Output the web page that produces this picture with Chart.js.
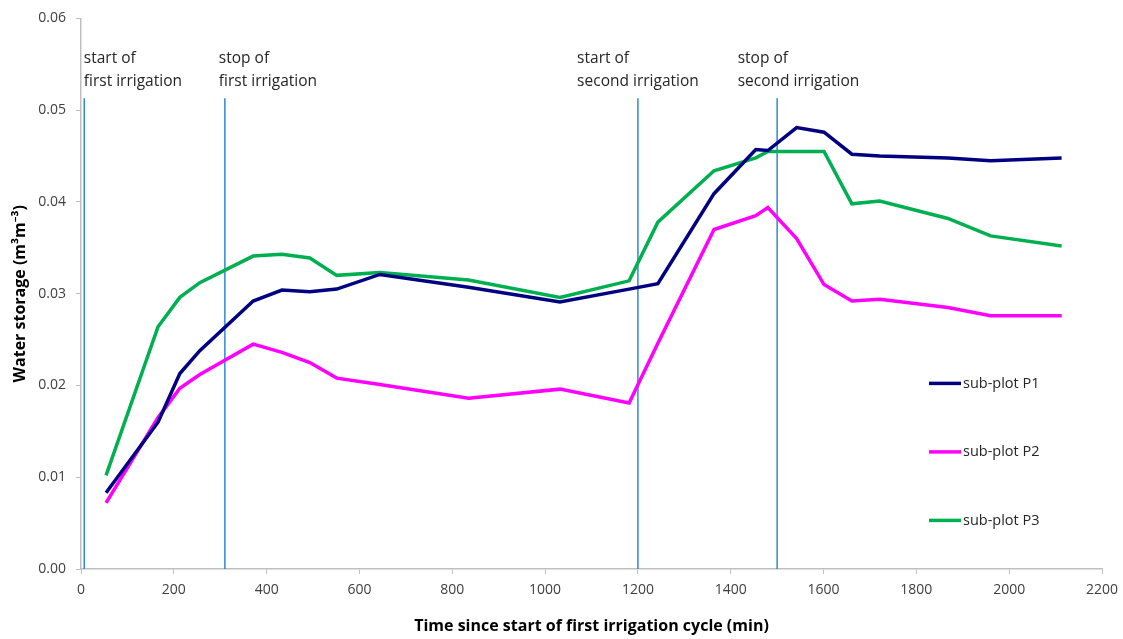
<!DOCTYPE html>
<html>
<head>
<meta charset="utf-8">
<script src="https://cdn.jsdelivr.net/npm/chart.js"></script>
<style>
    html, body { margin: 0; padding: 0; background: #fff; }
</style>
</head>
<body>
<canvas id="storage" width="1123" height="639"></canvas>
<script>
// time since start of first irrigation (min)
const times = [54, 166, 213, 256, 371, 433, 493, 551, 644, 835, 1032, 1181, 1243, 1364, 1454, 1480, 1542, 1601, 1661, 1721, 1868, 1960, 2113];

// water storage (m3 m-3)
const p1 = [0.0083, 0.0160, 0.0213, 0.0238, 0.0292, 0.0304, 0.0302, 0.0305, 0.0321, 0.0307, 0.0291, 0.0305, 0.0311, 0.0409, 0.0457, 0.0456, 0.0481, 0.0476, 0.0452, 0.0450, 0.0448, 0.0445, 0.0448];
const p2 = [0.0072, 0.0165, 0.0197, 0.0212, 0.0245, 0.0236, 0.0225, 0.0208, 0.0201, 0.0186, 0.0196, 0.0181, 0.0246, 0.0370, 0.0385, 0.0394, 0.0360, 0.0310, 0.0292, 0.0294, 0.0285, 0.0276, 0.0276];
const p3 = [0.0102, 0.0264, 0.0296, 0.0312, 0.0341, 0.0343, 0.0339, 0.0320, 0.0323, 0.0315, 0.0296, 0.0314, 0.0378, 0.0434, 0.0448, 0.0455, 0.0455, 0.0455, 0.0398, 0.0401, 0.0382, 0.0363, 0.0352];

const seriesNames = ["sub-plot P1", "sub-plot P2", "sub-plot P3"];
const seriesColors = ["#000080", "#ff00ff", "#00b050"];

// irrigation events
const eventTimes = [7, 310, 1200, 1500];
const eventTop = 0.0513;
const eventLabels = [
    ["start of", "first irrigation"],
    ["stop of", "first irrigation"],
    ["start of", "second irrigation"],
    ["stop of", "second irrigation"],
];
const eventLabelX = [6, 297, 1069, 1415];

const FONT = "'Open Sans', 'Noto Sans', sans-serif";

const toPoints = (vals) => vals.map((v, i) => ({ x: times[i], y: v }));

const datasets = [p1, p2, p3].map((vals, i) => ({
    label: seriesNames[i],
    data: toPoints(vals),
    borderColor: seriesColors[i],
    backgroundColor: seriesColors[i],
    borderWidth: 3.5,
    pointRadius: 0,
    tension: 0,
}));

eventTimes.forEach((t) => {
    datasets.push({
        label: "event",
        data: [{ x: t, y: 0 }, { x: t, y: eventTop }],
        borderColor: "#2e8ad4",
        borderWidth: 1.5,
        pointRadius: 0,
    });
});

// text above the irrigation lines + legend inside the plot
const extras = {
    id: "extras",
    afterDraw(chart) {
        const { ctx, chartArea, scales } = chart;
        ctx.save();
        ctx.font = "15.5px " + FONT;
        ctx.fillStyle = "#262626";
        ctx.textBaseline = "middle";
        ctx.textAlign = "left";
        eventLabels.forEach((lines, i) => {
            const x = scales.x.getPixelForValue(eventLabelX[i]);
            ctx.fillText(lines[0], x, chartArea.top + 40);
            ctx.fillText(lines[1], x, chartArea.top + 63);
        });

        // legend
        ctx.font = "14.5px " + FONT;
        seriesNames.forEach((name, i) => {
            const y = chartArea.top + 365 + i * 68.5;
            const x0 = chartArea.right - 173;
            ctx.strokeStyle = seriesColors[i];
            ctx.lineWidth = 3.5;
            ctx.beginPath();
            ctx.moveTo(x0, y);
            ctx.lineTo(x0 + 32, y);
            ctx.stroke();
            ctx.fillText(name, x0 + 34, y);
        });
        ctx.restore();
    },
};

new Chart(document.getElementById("storage"), {
    type: "line",
    data: { datasets: datasets },
    options: {
        responsive: false,
        devicePixelRatio: 1,
        animation: false,
        layout: { padding: { top: 17, right: 21, left: 0, bottom: 0 } },
        plugins: {
            legend: { display: false },
            tooltip: { enabled: false },
        },
        scales: {
            x: {
                type: "linear",
                min: 0,
                max: 2200,
                ticks: {
                    stepSize: 200,
                    color: "#404040",
                    font: { family: FONT, size: 14 },
                    padding: 8,
                    maxRotation: 0,
                    callback: (v) => String(v),
                },
                grid: { drawOnChartArea: false, drawTicks: true, tickLength: 5, color: "#bfbfbf" },
                border: { color: "#bfbfbf", width: 1.5 },
                title: {
                    display: true,
                    text: "Time since start of first irrigation cycle (min)",
                    color: "#000",
                    font: { family: FONT, size: 16, weight: "bold" },
                    padding: { top: 0, bottom: 3 },
                },
                afterFit: (scale) => {
                    scale.height = 70;
                    scale.paddingRight = 0;
                    scale.paddingLeft = 0;
                },
            },
            y: {
                min: 0,
                max: 0.06,
                ticks: {
                    stepSize: 0.01,
                    color: "#404040",
                    font: { family: FONT, size: 14 },
                    padding: 10,
                    callback: (v) => v.toFixed(2),
                },
                grid: { drawOnChartArea: false, drawTicks: true, tickLength: 5, color: "#bfbfbf" },
                border: { color: "#bfbfbf", width: 1.5 },
                title: {
                    display: true,
                    text: "Water storage (m³m⁻³)",
                    color: "#000",
                    font: { family: FONT, size: 16, weight: "bold" },
                    padding: { top: 11, bottom: 0 },
                },
                afterFit: (scale) => { scale.width = 81; },
            },
        },
    },
    plugins: [extras],
});
</script>
</body>
</html>
